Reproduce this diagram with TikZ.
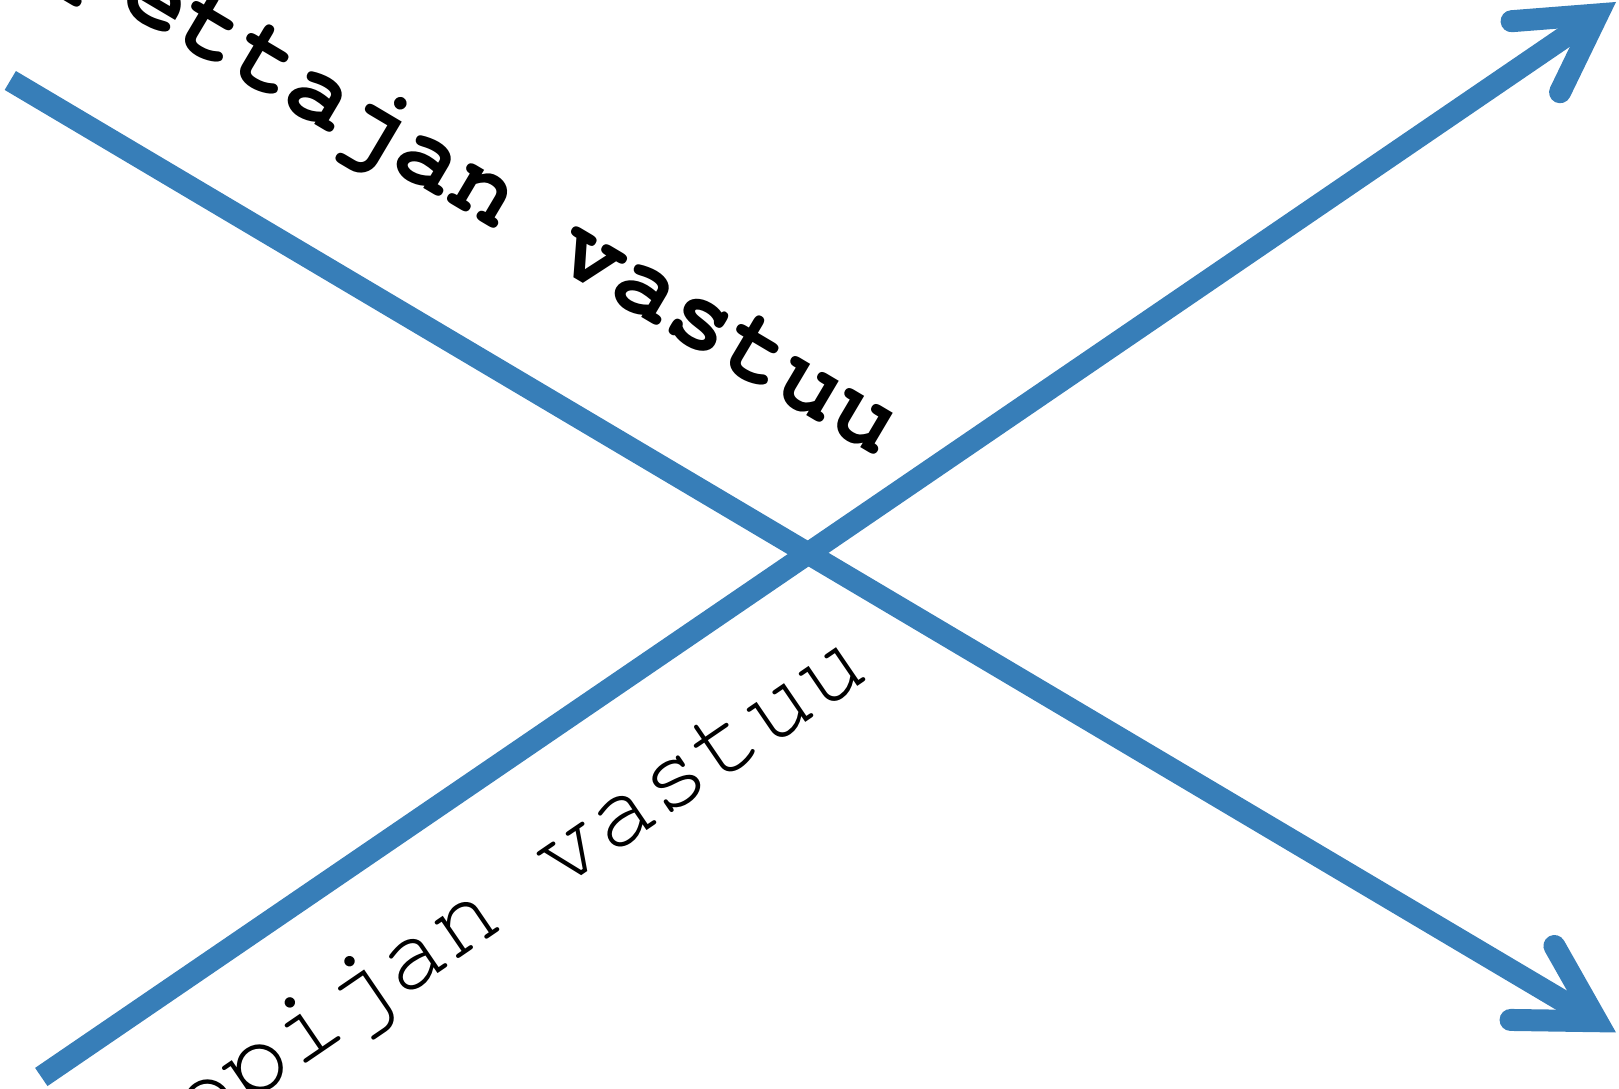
\documentclass[tikz,border=0pt]{standalone}
\usepackage{fontspec}
\setmonofont{TeX Gyre Cursor}
\usetikzlibrary{arrows.meta,calc}
\definecolor{roleblue}{HTML}{377EB8}
\tikzset{
  roleline/.style={roleblue, line width=0.22cm, -{Straight Barb[length=0.75cm, width=0.86cm, line cap=round, line join=miter]}},
  rolelabel/.style={anchor=base east, inner sep=0pt, font=\ttfamily\fontsize{30}{36}\selectfont},
  rolelabelbold/.style={rolelabel, font=\ttfamily\bfseries\fontsize{30}{36}\selectfont}
}
\begin{document}
\begin{tikzpicture}
  \useasboundingbox (0,0) rectangle (16.19,10.89);
  \coordinate (teachstart) at (0.103,10.085);
  \coordinate (teachend) at (16.16,0.565);
  \coordinate (learnstart) at (0.413,0.12);
  \coordinate (learnend) at (16.16,10.87);
  \draw[roleline] (teachstart)--(teachend);
  \draw[roleline] (learnstart)--(learnend);
  \coordinate (teachbase) at ($(teachstart)!9.40cm!(teachend)$);
  \coordinate (learnbase) at ($(learnstart)!9.12cm!(learnend)$);
  \node[rolelabelbold, rotate=-30.66] (teachlabel) at ($(teachbase)!1.18cm!90:(teachend)$) {Opettajan vastuu};
  \node[rolelabel, rotate=34.32] (learnlabel) at ($(learnbase)!1.38cm!-90:(learnend)$) {Oppijan vastuu};
\end{tikzpicture}
\end{document}
